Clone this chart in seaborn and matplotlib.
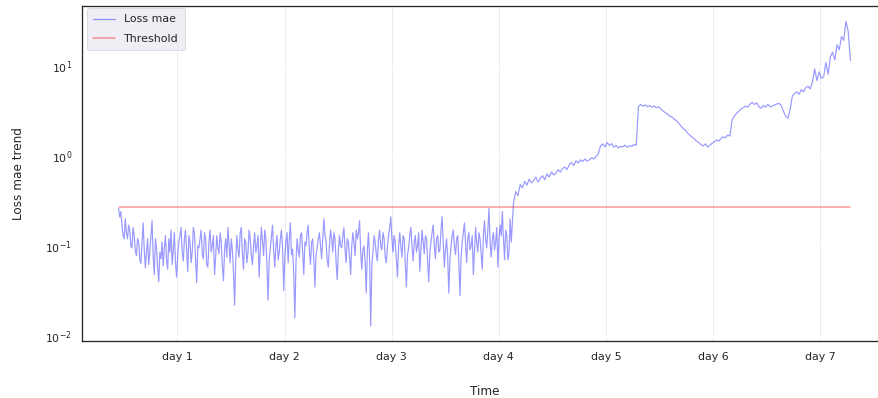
import numpy as np
import pandas as pd
import matplotlib
matplotlib.use("Agg")
import matplotlib.pyplot as plt
import seaborn as sns

# Reconstruction loss (MAE) from the anomaly detector.
# Normal operation is logged every 15 minutes, the drift period every 30 minutes.
normal_start_day = 0.45
normal_per_day = 96
normal_loss = [
    0.26, 0.21, 0.24, 0.17, 0.13, 0.12, 0.20, 0.14, 0.12, 0.17,
    0.15, 0.10, 0.095, 0.16, 0.13, 0.088, 0.078, 0.12, 0.11, 0.07,
    0.064, 0.11, 0.18, 0.09, 0.057, 0.085, 0.12, 0.062, 0.085, 0.13,
    0.19, 0.075, 0.048, 0.12, 0.095, 0.058, 0.040, 0.085, 0.072, 0.11,
    0.060, 0.095, 0.13, 0.07, 0.055, 0.12, 0.085, 0.15, 0.062, 0.09,
    0.14, 0.065, 0.045, 0.08, 0.11, 0.13, 0.16, 0.085, 0.068, 0.12,
    0.15, 0.09, 0.052, 0.13, 0.11, 0.065, 0.085, 0.16, 0.14, 0.07,
    0.039, 0.10, 0.095, 0.12, 0.15, 0.08, 0.072, 0.14, 0.12, 0.062,
    0.058, 0.11, 0.15, 0.085, 0.10, 0.13, 0.048, 0.075, 0.13, 0.095,
    0.082, 0.14, 0.11, 0.06, 0.041, 0.09, 0.12, 0.075, 0.16, 0.10,
    0.065, 0.12, 0.09, 0.05, 0.022, 0.07, 0.13, 0.09, 0.075, 0.14,
    0.16, 0.08, 0.055, 0.12, 0.11, 0.065, 0.085, 0.15, 0.12, 0.078,
    0.062, 0.10, 0.14, 0.085, 0.10, 0.13, 0.045, 0.09, 0.16, 0.11,
    0.078, 0.15, 0.12, 0.06, 0.025, 0.07, 0.095, 0.13, 0.17, 0.09,
    0.058, 0.10, 0.13, 0.07, 0.085, 0.12, 0.15, 0.095, 0.032, 0.075,
    0.11, 0.14, 0.065, 0.12, 0.18, 0.08, 0.092, 0.05, 0.016, 0.065,
    0.12, 0.09, 0.075, 0.13, 0.14, 0.085, 0.048, 0.11, 0.10, 0.14,
    0.17, 0.09, 0.062, 0.11, 0.12, 0.07, 0.035, 0.08, 0.095, 0.12,
    0.14, 0.10, 0.072, 0.12, 0.20, 0.13, 0.11, 0.07, 0.058, 0.10,
    0.15, 0.12, 0.085, 0.14, 0.12, 0.065, 0.042, 0.09, 0.13, 0.10,
    0.095, 0.13, 0.16, 0.09, 0.065, 0.12, 0.11, 0.075, 0.048, 0.10,
    0.14, 0.11, 0.078, 0.15, 0.12, 0.14, 0.19, 0.085, 0.055, 0.09,
    0.10, 0.065, 0.030, 0.09, 0.14, 0.07, 0.013, 0.06, 0.085, 0.13,
    0.11, 0.08, 0.068, 0.12, 0.15, 0.10, 0.090, 0.14, 0.12, 0.075,
    0.065, 0.10, 0.13, 0.16, 0.21, 0.12, 0.085, 0.13, 0.11, 0.07,
    0.045, 0.095, 0.14, 0.10, 0.075, 0.13, 0.12, 0.065, 0.035, 0.08,
    0.095, 0.13, 0.16, 0.10, 0.068, 0.11, 0.13, 0.085, 0.10, 0.14,
    0.052, 0.09, 0.15, 0.11, 0.082, 0.13, 0.12, 0.07, 0.040, 0.085,
    0.11, 0.14, 0.17, 0.10, 0.072, 0.12, 0.13, 0.085, 0.090, 0.15,
    0.21, 0.11, 0.058, 0.09, 0.12, 0.075, 0.030, 0.07, 0.10, 0.13,
    0.15, 0.10, 0.08, 0.12, 0.13, 0.065, 0.028, 0.075, 0.11, 0.14,
    0.18, 0.11, 0.065, 0.12, 0.14, 0.09, 0.10, 0.13, 0.048, 0.085,
    0.16, 0.11, 0.085, 0.14, 0.12, 0.08, 0.055, 0.13, 0.19, 0.12,
    0.095, 0.15, 0.26, 0.11, 0.075, 0.12, 0.14, 0.09, 0.11, 0.16,
    0.058, 0.12, 0.17, 0.13, 0.24, 0.12, 0.07, 0.15, 0.13, 0.07,
    0.085, 0.20, 0.11,
]

drift_start_day = 4.1375
drift_per_day = 48
drift_loss = [
    0.30, 0.40, 0.36, 0.48, 0.44, 0.52, 0.47, 0.55, 0.50, 0.53,
    0.58, 0.51, 0.56, 0.60, 0.54, 0.63, 0.58, 0.66, 0.61, 0.64,
    0.70, 0.66, 0.72, 0.75, 0.70, 0.80, 0.84, 0.78, 0.88, 0.83,
    0.90, 0.86, 0.92, 0.87, 0.90, 0.95, 0.92, 0.98, 1.05, 1.28,
    1.35, 1.25, 1.40, 1.30, 1.36, 1.24, 1.30, 1.22, 1.27, 1.25,
    1.31, 1.24, 1.29, 1.27, 1.33, 1.30, 3.50, 3.70, 3.55, 3.65,
    3.50, 3.60, 3.45, 3.55, 3.40, 3.50, 3.30, 3.15, 3.00, 2.90,
    2.75, 2.70, 2.55, 2.45, 2.30, 2.15, 2.00, 1.92, 1.78, 1.70,
    1.60, 1.55, 1.45, 1.40, 1.33, 1.28, 1.35, 1.25, 1.30, 1.38,
    1.42, 1.50, 1.45, 1.55, 1.62, 1.58, 1.70, 1.65, 2.50, 2.75,
    2.95, 3.10, 3.30, 3.40, 3.55, 3.45, 3.75, 3.90, 3.70, 3.85,
    3.50, 3.35, 3.60, 3.45, 3.70, 3.50, 3.55, 3.65, 3.75, 3.80,
    3.60, 3.10, 2.75, 2.60, 3.30, 4.60, 4.90, 5.10, 4.80, 5.40,
    5.10, 5.70, 5.90, 5.50, 6.60, 9.20, 6.80, 8.50, 7.20, 7.50,
    10.8, 8.00, 12.5, 14.0, 11.5, 17.0, 15.0, 21.0, 19.0, 31.0,
    24.0, 11.4,
]

threshold = 0.27
day_ticks = [1, 2, 3, 4, 5, 6, 7]
day_labels = ["day 1", "day 2", "day 3", "day 4", "day 5", "day 6", "day 7"]

days = np.concatenate([
    normal_start_day + np.arange(len(normal_loss)) / normal_per_day,
    drift_start_day + np.arange(len(drift_loss)) / drift_per_day,
])
loss = np.array(normal_loss + drift_loss)
df = pd.DataFrame({
    "Time": days,
    "Loss mae": loss,
    "Threshold": np.full(len(loss), threshold),
})

sns.set_theme(context="notebook", style="white")

fig = plt.figure(figsize=(878 / 72, 398 / 72), dpi=72)
ax = fig.add_axes([82 / 878, 57 / 398, 805 / 878, 335 / 398])

sns.lineplot(data=df, x="Time", y="Loss mae", ax=ax, color="blue",
             alpha=0.4, linewidth=1.2, label="Loss mae")
sns.lineplot(data=df, x="Time", y="Threshold", ax=ax, color="red",
             alpha=0.4, linewidth=1.5, label="Threshold")

ax.set_yscale("log")
ax.set_xticks(day_ticks)
ax.set_xticklabels(day_labels)
ax.minorticks_off()
ax.tick_params(axis="both", length=0, labelsize=11, labelcolor="#262626")
ax.tick_params(axis="x", pad=11)
ax.tick_params(axis="y", pad=10)

ax.grid(axis="x", color="#EAEAF2", linewidth=1.0)
ax.grid(axis="y", color="white", linewidth=1.0)

for side in ("left", "bottom", "top"):
    ax.spines[side].set_color("#262626")
    ax.spines[side].set_linewidth(1.3)
ax.spines["right"].set_visible(False)

ax.set_xlabel("Time", fontsize=12, labelpad=23, color="#262626")
ax.set_ylabel("Loss mae trend", fontsize=12, labelpad=20, color="#262626")

ax.legend(loc="upper left", bbox_to_anchor=(5 / 805, 1 - 2 / 335),
          borderaxespad=0, fontsize=11, frameon=True,
          labelspacing=0.86, borderpad=0.58,
          facecolor="#EAEAF2", edgecolor="#D5D5DE", framealpha=0.8)

fig.savefig("out.png", dpi=72)
